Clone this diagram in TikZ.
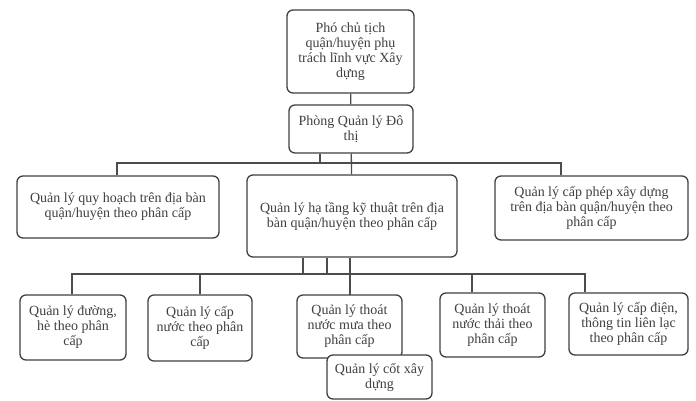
\documentclass[tikz,border=0pt]{standalone}
\usepackage{fontspec}
\setmainfont{Liberation Serif}
\begin{document}
\begin{tikzpicture}[
  x=1pt, y=-1pt,
  box/.style={draw=black!75, line width=1.3pt, rounded corners=6pt, fill=white,
    align=center, inner sep=1pt, text=black!75,
    font=\fontsize{14}{15}\selectfont},
  link/.style={draw=black!70, line width=1.3pt}
]
  \useasboundingbox (0,0) rectangle (696,400);

  % Top levels
  \node[box, minimum width=127pt, minimum height=83pt] (pho) at (350.5, 51.5)
    {Phó chủ tịch\\quận/huyện phụ\\trách lĩnh vực Xây\\dựng};
  \node[box, minimum width=124pt, minimum height=48pt] (phong) at (351, 129)
    {Phòng Quản lý Đô\\thị};

  % Second level
  \node[box, minimum width=202pt, minimum height=62pt] (quyhoach) at (118, 207)
    {Quản lý quy hoạch trên địa bàn\\quận/huyện theo phân cấp};
  \node[box, minimum width=210pt, minimum height=82pt] (hatang) at (352, 216)
    {Quản lý hạ tầng kỹ thuật trên địa\\bàn quận/huyện theo phân cấp};
  \node[box, minimum width=193pt, minimum height=64pt] (capphep) at (591.5, 208)
    {Quản lý cấp phép xây dựng\\trên địa bàn quận/huyện theo\\phân cấp};

  % Third level
  \node[box, minimum width=106pt, minimum height=65pt] (duong) at (73, 327.5)
    {Quản lý đường,\\hè theo phân\\cấp};
  \node[box, minimum width=104pt, minimum height=66pt] (capnuoc) at (200, 328)
    {Quản lý cấp\\nước theo phân\\cấp};
  \node[box, minimum width=105pt, minimum height=63pt] (thoatmua) at (349.5, 326.5)
    {Quản lý thoát\\nước mưa theo\\phân cấp};
  \node[box, minimum width=105pt, minimum height=64pt] (thoatthai) at (492.5, 325)
    {Quản lý thoát\\nước thải theo\\phân cấp};
  \node[box, minimum width=119pt, minimum height=62pt] (capdien) at (628.5, 324)
    {Quản lý cấp điện,\\thông tin liên lạc\\theo phân cấp};
  \node[box, minimum width=105pt, minimum height=44pt] (cotxd) at (379.5, 377)
    {Quản lý cốt xây\\dựng};

  % Connectors
  \coordinate (bus1) at (0, 163);
  \coordinate (bus2) at (0, 274);
  \draw[link] (pho) -- (phong);
  \draw[link] (phong.south -| 320,0) -- (320, 163);
  \draw[link] (phong) -- (hatang);
  \draw[link] (quyhoach.north -| 117,0) |- (bus1 -| capphep.north -| 561,0) -- (capphep.north -| 561,0);
  \draw[link] (hatang.south -| 303,0) -- (303, 274);
  \draw[link] (hatang.south -| 327,0) -- (327, 274);
  \draw[link] (hatang.south -| 350,0) -- (350, 295);
  \draw[link] (duong.north -| 72,0) |- (bus2 -| 585,0) -- (capdien.north -| 585,0);
  \draw[link] (capnuoc) -- (capnuoc |- bus2);
  \draw[link] (thoatthai.north -| 472,0) -- (472, 274);
\end{tikzpicture}
\end{document}
